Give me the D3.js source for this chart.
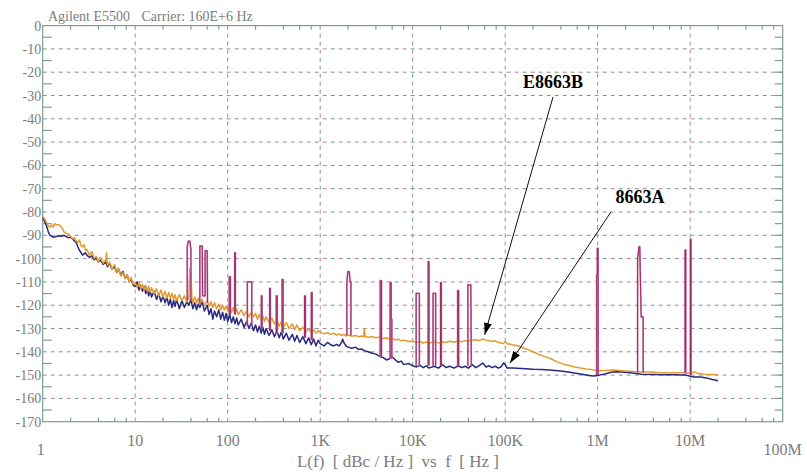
<!DOCTYPE html>
<html><head><meta charset="utf-8">
<script src="https://cdn.jsdelivr.net/npm/d3@7"></script>
<style>body{margin:0;background:#fff}svg{display:block}text{font-family:"Liberation Serif","Times New Roman",serif}</style>
</head><body><svg id="c" width="807" height="472"></svg>
<script>
// ---------- data ----------
const titleLeft = "Agilent E5500";
const titleRight = "Carrier: 160E+6 Hz";
const xAxisTitle = "L(f)  [ dBc / Hz ]  vs  f  [ Hz ]";
const yTicks = [0,-10,-20,-30,-40,-50,-60,-70,-80,-90,-100,-110,-120,-130,-140,-150,-160,-170];
const yTickLabels = ["0","-10","-20","-30","-40","-50","-60","-70","-80","-90","-100","-110","-120","-130","-140","-150","-160","-170"];
const xTicks = [1,10,100,1e3,1e4,1e5,1e6,1e7,1e8];
const xTickLabels = ["1","10","100","1K","10K","100K","1M","10M","100M"];

const series8663A = [
[1,-82.5],[1.05,-84],[1.1,-86],[1.15,-88.5],[1.2,-90],[1.3,-90.8],[1.4,-90.5],[1.5,-90.2],[1.6,-90.4],[1.7,-90],[1.8,-90.6],[1.9,-91],[2,-90.8],[2.1,-91.5],[2.2,-92.5],[2.3,-93],[2.4,-95],[2.5,-96.5],[2.6,-97.5],[2.7,-98.5],[2.8,-98],[2.9,-97.5],[3,-98.5],[3.2,-99.5],[3.4,-98.8],[3.6,-100.5],[3.8,-99.8],[4,-101.5],[4.2,-100.5],[4.5,-102.5],[4.8,-101.5],[5,-103.5],[5.3,-102],[5.6,-104.5],[6,-103.5],[6.3,-106],[6.6,-104.5],[7,-107],[7.4,-105.5],[7.8,-108.5],[8.2,-107],[8.6,-110],[9,-108.5],[9.5,-111.5],
[10,-112],[10.5,-110],[11,-113.5],[11.5,-111.5],[12,-114],[12.5,-112],[13,-115],[13.5,-113],[14,-116],[14.5,-113.5],[15,-116.5],[16,-114],[17,-117.5],[18,-115],[19,-118.5],[20,-116],[21,-119],[22,-116.5],[23,-120],[24,-117.5],[25,-121],[26,-118],[27,-120.5],[28,-117.5],[30,-121.5],[32,-118],[34,-121],[36,-118.5],[38,-120],[40,-117.5],[42,-121.5],[44,-119],[46,-122],[48,-119.5],[50,-121],[53,-118.5],[56,-122.5],[60,-120],[63,-124],[66,-121.5],[69,-126],[72,-122.5],[76,-125],[80,-122],[84,-126],[88,-123],[92,-126.5],[96,-123.5],
[100,-127],[105,-124],[110,-127.5],[115,-125],[120,-128],[125,-125.5],[130,-128.5],[140,-126],[150,-129.5],[160,-127],[170,-130],[180,-127.5],[190,-131],[200,-128.5],[210,-131.5],[220,-129],[230,-132],[240,-129.5],[250,-132.5],[260,-130],[280,-133],[300,-130.5],[320,-133.5],[340,-131],[360,-134],[380,-131.5],[400,-134.5],[430,-132],[460,-135],[500,-132.5],[530,-135.5],[560,-133],[600,-136],[650,-133.5],[700,-136.5],[750,-134],[800,-137],[850,-134.5],[900,-137.5],[950,-135],
[1000,-136.5],[1100,-137.5],[1200,-136],[1300,-137],[1400,-137.5],[1500,-136.8],[1600,-137.5],[1700,-136],[1750,-134.6],[1800,-136],[1900,-137.5],[2000,-138],[2200,-138.5],[2400,-138],[2600,-139],[2800,-138.8],[3000,-139.5],[3300,-140],[3600,-140.5],[4000,-141],[4400,-142],[4800,-142.5],[5200,-143.5],[5600,-143],[6000,-142],[6500,-143.5],[7000,-144.5],[7500,-144],[8000,-145.5],[9000,-145],[10000,-146],
[11000,-146.5],[12000,-145.8],[13000,-146.8],[14000,-146],[15000,-147],[17000,-146.2],[19000,-147],[21000,-145.5],[23000,-146.8],[25000,-146.2],[28000,-147],[31000,-146],[34000,-146.8],[37000,-146.2],[40000,-147],[44000,-145.5],[48000,-146.8],[52000,-146],[57000,-144.8],[62000,-146.5],[67000,-146],[72000,-146.8],[78000,-146.2],[84000,-147],[90000,-146.5],[96000,-144.8],[100000,-145.5],[105000,-147],
[120000,-147],[150000,-147.2],[200000,-147.5],[250000,-147.6],[300000,-147.8],[400000,-148.2],[500000,-148.8],[600000,-149.3],[700000,-149.7],[800000,-150.2],[900000,-150.4],[1000000,-150.2],[1100000,-149.8],[1200000,-149.5],[1400000,-148.8],[1600000,-148.6],[2000000,-148.8],[2500000,-149.2],[3000000,-149.6],[4000000,-149.7],[5000000,-149.8],[6000000,-149.8],[7000000,-149.9],[8000000,-150],[9000000,-150],[10000000,-150.5],[11000000,-150.8],[13000000,-150.8],[15000000,-151.2],[17000000,-151.8],[20000000,-152.4]
];

const seriesE8663B = [
[1,-82],[1.05,-83],[1.1,-84.5],[1.15,-86],[1.2,-86.5],[1.25,-85.5],[1.3,-86.5],[1.35,-85],[1.4,-85.5],[1.5,-85.5],[1.6,-86.5],[1.7,-88.5],[1.8,-89.2],[1.9,-89.5],[2,-90.5],[2.1,-91.5],[2.2,-91],[2.3,-92.5],[2.4,-93],[2.5,-92],[2.6,-94.5],[2.7,-95],[2.8,-94],[2.9,-96.5],[3,-96],[3.2,-98.5],[3.4,-97],[3.6,-100],[3.8,-99],[4,-101.5],[4.2,-99.5],[4.5,-102],[4.8,-100.5],[4.9,-97.5],[5,-103],[5.3,-101.5],[5.6,-104.5],[6,-102.5],[6.3,-106],[6.6,-104],[7,-107.5],[7.4,-106],[7.8,-108.5],[8.2,-107],[8.6,-110],[9,-108],[9.5,-111],
[10,-110.5],[10.5,-112.5],[11,-110],[11.5,-113],[12,-111],[12.5,-113.5],[13,-111.5],[13.5,-114],[14,-112],[14.5,-114.5],[15,-112.5],[16,-115],[17,-113],[18,-116],[19,-113.5],[20,-116.5],[21,-114],[22,-117],[23,-114.5],[24,-117],[25,-115],[26,-117.5],[27,-115.5],[28,-118],[30,-115.5],[32,-118],[34,-116],[36,-118.5],[37,-116],[38,-117.5],[39,-104],[40,-105],[41,-117],[42,-119],[44,-116.5],[46,-119],[48,-117],[50,-119.5],[53,-117.5],[56,-120],[60,-118],[63,-120.5],[66,-118.5],[69,-121],[72,-119],[76,-121.5],[80,-119.5],[84,-122],[88,-120],[92,-122],[96,-120.5],
[100,-122.5],[105,-120.5],[110,-123],[115,-121],[120,-123.5],[125,-121.5],[130,-124],[140,-122],[150,-124.5],[160,-122.5],[170,-125],[180,-123],[190,-125],[200,-123.5],[210,-126],[220,-124],[230,-126.5],[240,-124.5],[250,-127],[260,-125],[280,-127.5],[300,-125.5],[320,-128],[340,-126.5],[360,-129],[380,-127],[400,-129.5],[430,-127.5],[460,-130],[500,-128],[530,-130.5],[560,-128.5],[600,-131],[650,-129.5],[700,-131.5],[750,-130],[800,-132],[850,-130.5],[900,-132],[950,-131],
[1000,-131.5],[1100,-132.3],[1200,-131.8],[1300,-132.5],[1400,-132],[1500,-132.8],[1600,-132.3],[1700,-133],[1800,-132.5],[1900,-133.2],[2000,-132.8],[2200,-133.3],[2400,-133],[2600,-133.5],[2800,-133.2],[2950,-133.5],[3000,-130],[3050,-133.3],[3300,-133.8],[3600,-133.4],[4000,-134],[4400,-133.6],[4800,-134.3],[5200,-134],[5600,-134.6],[6000,-134.2],[6500,-135],[7000,-134.6],[7500,-135.3],[8000,-135],[9000,-135.6],[10000,-135.5],
[11000,-136],[12000,-135.6],[13000,-136.2],[14000,-135.8],[15000,-136.3],[17000,-135.7],[19000,-136.2],[21000,-135.8],[23000,-136],[25000,-135.5],[28000,-135.9],[31000,-135.4],[34000,-135.7],[37000,-135.2],[40000,-135.5],[44000,-135],[48000,-134.8],[52000,-135.2],[57000,-134.5],[62000,-135],[67000,-135.2],[72000,-135.6],[78000,-135.3],[84000,-135.9],[90000,-136.2],[96000,-136.5],[100000,-135.5],[105000,-136.5],
[120000,-137],[140000,-137.5],[160000,-138.5],[180000,-139.3],[200000,-140],[240000,-141.4],[280000,-142.3],[320000,-143.2],[360000,-144.2],[420000,-145.2],[500000,-146],[560000,-146.5],[650000,-147],[750000,-147.4],[850000,-147.6],[1000000,-148.1],[1200000,-148],[1500000,-147.8],[2000000,-148.2],[2500000,-148.5],[3000000,-148.6],[4000000,-148.8],[5000000,-149],[6000000,-149],[7000000,-149],[8000000,-149],[9000000,-149.1],[10000000,-149.3],[11000000,-148.6],[12000000,-149.2],[14000000,-149.6],[17000000,-149.7],[20000000,-149.8]
];

const spurs = [
[[36.5,-118],[36.5,-95],[37.5,-92.5],[39,-92.5],[40,-96],[40,-118]],
[[50,-119],[50,-94.6],[53,-94.6],[53.5,-116],[57,-116],[57,-96.6],[60,-96.6],[60.5,-119]],
[[104,-124],[104,-107.8],[107,-107.8],[107,-124]],
[[119,-124],[119,-97.5],[121,-97.5],[121,-124]],
[[163,-129],[163,-110],[182,-110],[182,-129]],
[[231,-130],[231,-116],[235,-116],[235,-130]],
[[284,-131],[284,-112.8],[289,-112.8],[289,-131]],
[[335,-132],[335,-116],[343,-116],[343,-132]],
[[387,-132],[387,-109],[397,-109],[397,-132]],
[[678,-134],[678,-116],[692,-116],[692,-134]],
[[802,-135],[802,-114.6],[818,-114.6],[818,-135]],
[[1940,-133],[1940,-110],[1990,-105.6],[2060,-105.6],[2110,-110],[2150,-110],[2150,-133]],
[[4450,-142],[4450,-109.5],[4600,-109.5],[4600,-142]],
[[5700,-143],[5700,-110.3],[5850,-110.3],[5850,-126],[5950,-126],[5950,-143]],
[[10900,-146],[10900,-114.9],[11800,-114.9],[11800,-146]],
[[14700,-146],[14700,-101.3],[15000,-101.3],[15000,-146]],
[[16600,-146],[16600,-114.9],[17700,-114.9],[17700,-146]],
[[20000,-146],[20000,-110.3],[20400,-110.3],[20400,-146]],
[[30600,-146],[30600,-113.8],[31400,-113.8],[31400,-146]],
[[39500,-146],[39500,-111.3],[42500,-111.3],[43000,-146]],
[[975000,-150],[975000,-107],[990000,-107],[990000,-95.6],[1010000,-95.6],[1010000,-150]],
[[2700000,-149],[2700000,-99.9],[2800000,-94.9],[2850000,-94.9],[2950000,-125],[3100000,-125],[3100000,-149]],
[[8800000,-149],[8800000,-96.3],[8950000,-96.3],[8950000,-149]],
[[10050000,-150],[10050000,-91.7],[10200000,-91.7],[10200000,-150]]
];

// annotations: label, label anchor [f, dB], arrow start [f, dB], arrow tip [f, dB]
const annotLabels = ["E8663B","8663A"];
const annotLabelPos = [[329000,-26.8],[2.87e6,-76.1]];
const annotStart = [[329000,-30.6],[1.39e6,-80]];
const annotTip = [[60000,-132.7],[112700,-144.8]];

// ---------- chart ----------
const svg = d3.select("#c");
const x = d3.scaleLog().domain([1,1e8]).range([42.7,782.7]);
const y = d3.scaleLinear().domain([0,-170]).range([25.6,421.7]);
const axisCol = "#7f9d8d", txtCol = "#7c7c7c";
const gGreen = "#6f9e86", gPink = "#b9809f";

// grid
const grid = svg.append("g");
function dashed(x1,y1,x2,y2){
  grid.append("line").attr("x1",x1).attr("y1",y1).attr("x2",x2).attr("y2",y2)
    .attr("stroke",gGreen).attr("stroke-width",1).attr("stroke-dasharray","4,12");
  grid.append("line").attr("x1",x1).attr("y1",y1).attr("x2",x2).attr("y2",y2)
    .attr("stroke",gPink).attr("stroke-width",1).attr("stroke-dasharray","4,12").attr("stroke-dashoffset",-8);
}
yTicks.slice(1,-1).forEach(v=>dashed(x.range()[0],y(v),x.range()[1],y(v)));
xTicks.slice(1,-1).forEach(v=>dashed(x(v),y.range()[0],x(v),y.range()[1]));

// frame
const [X0,X1] = x.range(), [Y0,Y1] = y.range();
const frame = svg.append("g").attr("stroke",axisCol).attr("stroke-width",1.2).attr("fill","none");
frame.append("rect").attr("x",X0).attr("y",Y0).attr("width",X1-X0).attr("height",Y1-Y0);

// y minor ticks
d3.range(-5,-170,-10).forEach(v=>frame.append("line").attr("x1",X0).attr("x2",X0+9).attr("y1",y(v)).attr("y2",y(v)));
d3.range(-5,-170,-5).forEach(v=>frame.append("line").attr("x1",X1).attr("x2",X1-8).attr("y1",y(v)).attr("y2",y(v)));
// x minor ticks (2,4,6,8 per decade)
xTicks.slice(0,-1).forEach(d=>{[2,4,6,8].forEach(m=>{
  const px=x(d*m);
  frame.append("line").attr("x1",px).attr("x2",px).attr("y1",Y1).attr("y2",Y1-4);
  frame.append("line").attr("x1",px).attr("x2",px).attr("y1",Y0).attr("y2",Y0+4);
});});

// tick labels
const yl = svg.append("g").attr("fill",txtCol).attr("font-size",14).attr("text-anchor","end");
yTicks.forEach((v,i)=>yl.append("text").attr("x",X0-1.5).attr("y",y(v)+5).text(yTickLabels[i]));
const xl = svg.append("g").attr("fill",txtCol).attr("font-size",16).attr("text-anchor","middle");
xTicks.forEach((v,i)=>{
  const low = (i===0||i===xTicks.length-1);
  xl.append("text").attr("x",x(v)-(i===0?2:0)).attr("y",low?455:446).text(xTickLabels[i]);
});

// titles
svg.append("text").attr("x",48).attr("y",21).attr("fill",txtCol).attr("font-size",14).text(titleLeft);
svg.append("text").attr("x",141.5).attr("y",21).attr("fill",txtCol).attr("font-size",14).text(titleRight);
svg.append("text").attr("x",398).attr("y",467).attr("fill",txtCol).attr("font-size",17)
  .attr("text-anchor","middle").style("white-space","pre").text(xAxisTitle);

// data lines
const line = d3.line().x(d=>x(d[0])).y(d=>y(d[1]));
svg.append("path").datum(series8663A).attr("d",line).attr("fill","none")
  .attr("stroke","#27287f").attr("stroke-width",1.5).attr("stroke-linejoin","round");
svg.append("path").datum(seriesE8663B).attr("d",line).attr("fill","none")
  .attr("stroke","#e39a2e").attr("stroke-width",1.5).attr("stroke-linejoin","round");
const sp = svg.append("g").attr("fill","none");
spurs.forEach(s=>{
  sp.append("path").datum(s).attr("d",line).attr("stroke","#cf8ab3").attr("stroke-width",1.8);
  sp.append("path").datum(s).attr("d",line).attr("stroke","#98205f").attr("stroke-width",0.9);
});

// annotations
svg.append("defs").append("marker").attr("id","ah").attr("viewBox","0 0 12 8")
  .attr("refX",12).attr("refY",4).attr("markerWidth",12).attr("markerHeight",8)
  .attr("markerUnits","userSpaceOnUse").attr("orient","auto")
  .append("path").attr("d","M0,0 L12,4 L0,8 Z").attr("fill","#000");
annotLabels.forEach((t,i)=>{
  svg.append("line").attr("x1",x(annotStart[i][0])).attr("y1",y(annotStart[i][1]))
    .attr("x2",x(annotTip[i][0])).attr("y2",y(annotTip[i][1]))
    .attr("stroke","#111").attr("stroke-width",1).attr("marker-end","url(#ah)");
  svg.append("text").attr("x",x(annotLabelPos[i][0])).attr("y",y(annotLabelPos[i][1]))
    .attr("text-anchor","middle").attr("font-weight","bold").attr("font-size",18).attr("fill","#000").text(t);
});
</script></body></html>
